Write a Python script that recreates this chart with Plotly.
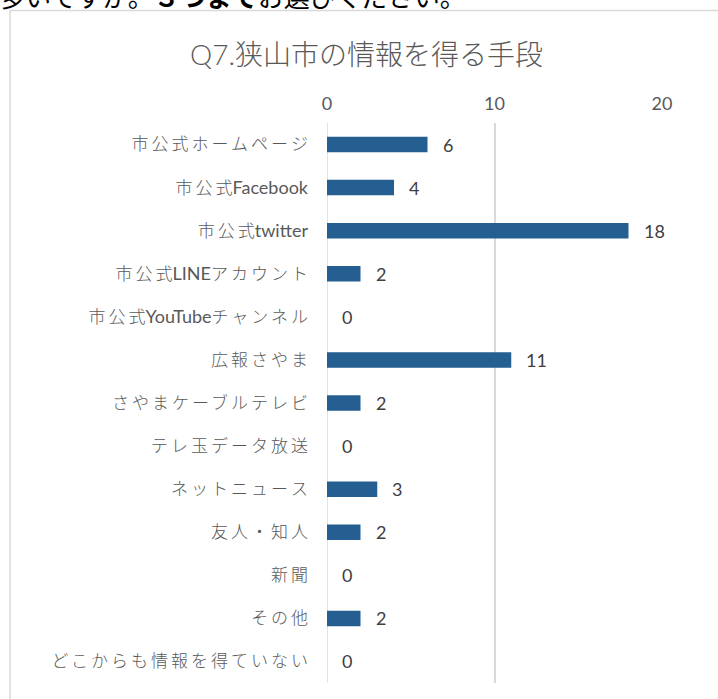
import re
import plotly.graph_objects as go

categories = [
    "市公式ホームページ", "市公式Facebook", "市公式twitter", "市公式LINEアカウント",
    "市公式YouTubeチャンネル", "広報さやま", "さやまケーブルテレビ", "テレ玉データ放送",
    "ネットニュース", "友人・知人", "新聞", "その他", "どこからも情報を得ていない",
]
values = [6, 4, 18, 2, 0, 11, 2, 0, 3, 2, 0, 2, 0]
x_ticks = [0, 10, 20]

W, H = 718, 699
L, R = 327, 662      # plot area pixel edges
T, B = 122.5, 683

LATIN = "Lato, 'Noto Sans', sans-serif"
CJK = "'Noto Sans CJK JP', sans-serif"
GRAY = "#595959"

CJK_STYLE = "font-family:'Noto Sans CJK JP';font-weight:300;font-size:17px;"


def styled(label):
    """Split a label into Latin / CJK runs with separate styling."""
    out = []
    for run in re.findall(r"[A-Za-z0-9. ]+|[^A-Za-z0-9. ]+", label):
        if re.match(r"[A-Za-z0-9. ]", run):
            out.append(f"<span style=\"font-family:Lato;font-size:18px\">{run}</span>")
        else:
            if len(run) > 1:
                out.append(f"<span style=\"{CJK_STYLE}letter-spacing:3px\">{run[:-1]}</span>")
            out.append(f"<span style=\"{CJK_STYLE}\">{run[-1]}</span>")
    return "".join(out)


tick_text = [styled(c) for c in categories]

fig = go.Figure(go.Bar(
    x=values, y=categories, orientation="h",
    marker=dict(color="#255e91", line=dict(width=0)),
    hoverinfo="skip",
))

annotations = []
for c, v in zip(categories, values):
    annotations.append(dict(
        x=v, y=c, xref="x", yref="y", text=str(v), showarrow=False,
        xanchor="left", yanchor="middle", xshift=13,
        font=dict(family=LATIN, size=18, color="#404040"),
    ))

pw, ph = R - L, B - T


def px_x(p):
    return (p - L) / pw


def px_y(p):
    return (B - p) / ph


# title
annotations.append(dict(
    x=px_x(366), y=px_y(52), xref="paper", yref="paper",
    text="<span style=\"font-family:Lato;font-weight:300\">Q7.</span>"
         "<span style=\"font-family:'Noto Sans CJK JP';font-weight:300\">狭山市の情報を得る手段</span>",
    showarrow=False, xanchor="center", yanchor="middle",
    font=dict(family=LATIN, size=28, color=GRAY),
))
# cropped question text at the very top
annotations.append(dict(
    x=px_x(-3), y=px_y(-5), xref="paper", yref="paper",
    text="多いですか。<b>３つまで</b>お選びください。", showarrow=False,
    xanchor="left", yanchor="middle",
    font=dict(family=CJK, size=26, color="#000000"),
))

shapes = [dict(
    type="rect", xref="paper", yref="paper",
    x0=px_x(10), x1=px_x(730), y0=px_y(720), y1=px_y(10),
    line=dict(color="#d9d9d9", width=1.5), fillcolor="rgba(0,0,0,0)", layer="below",
)]

fig.update_layout(
    width=W, height=H,
    margin=dict(l=L, r=W - R, t=T, b=H - B, pad=0),
    paper_bgcolor="white", plot_bgcolor="white",
    bargap=0.64,
    showlegend=False,
    annotations=annotations,
    shapes=shapes,
    xaxis=dict(
        side="top", range=[0, 20], tickvals=x_ticks,
        showgrid=True, gridcolor="#d9d9d9", gridwidth=1.5,
        zeroline=False, showline=False, ticks="",
        tickfont=dict(family=LATIN, size=18, color=GRAY),
        ticklabelstandoff=8, fixedrange=True,
    ),
    yaxis=dict(
        autorange="reversed", showgrid=False, zeroline=False,
        showline=False, ticks="",
        tickmode="array", tickvals=categories, ticktext=tick_text,
        tickfont=dict(family=LATIN, size=17, color=GRAY),
        ticklabelstandoff=18, fixedrange=True,
    ),
)
fig.add_shape(type="line", xref="x", yref="paper", x0=0, x1=0, y0=0, y1=1,
              line=dict(color="#d9d9d9", width=1.5), layer="below")

fig.write_html("out.html", config={"displayModeBar": False},
               post_script="document.body.style.margin='0px';")
